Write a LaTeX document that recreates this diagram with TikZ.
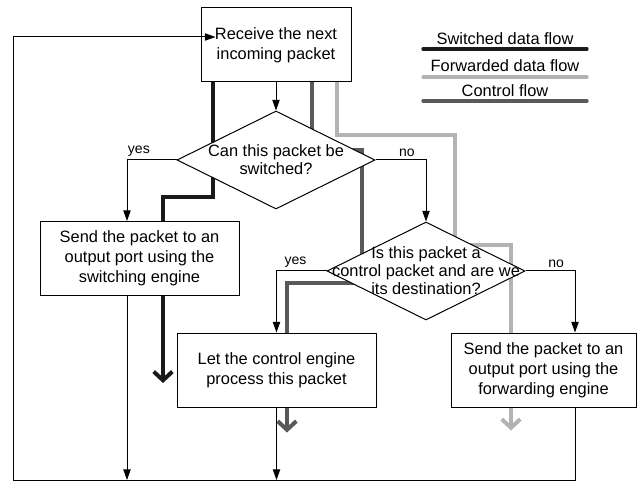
\documentclass[tikz,border=0pt]{standalone}
\usepackage{fontspec}
\setmainfont{Liberation Sans}
\usetikzlibrary{shapes.geometric,arrows.meta,calc,backgrounds}
\definecolor{swcol}{HTML}{1A1A1A}
\definecolor{fwcol}{HTML}{B3B3B3}
\definecolor{ctcol}{HTML}{595959}

\begin{document}
\begin{tikzpicture}[x=0.75pt, y=-0.75pt, line width=0.75pt,
    box/.style={draw, fill=white, align=center, minimum width=149.25pt, minimum height=55.5pt, inner sep=0pt, font=\fontsize{12.3}{15}\selectfont},
    decision/.style={diamond, draw, fill=white, minimum width=148.5pt, minimum height=73.5pt, inner sep=0pt},
    decisiontext/.style={align=center, inner sep=0pt, font=\fontsize{12.3}{13.5}\selectfont},
    link/.style={-{Triangle[length=8pt,width=5.5pt]}},
    answer/.style={above, inner sep=2pt, font=\fontsize{10.5}{12}\selectfont},
    legtext/.style={anchor=base, inner sep=0pt, font=\fontsize{12.3}{15}\selectfont},
    swpath/.style={swcol, line width=3pt},
    fwpath/.style={fwcol, line width=3pt},
    ctpath/.style={ctcol, line width=3pt},
    flowtip/.style={-{Straight Barb[length=6.5pt,width=14pt]}}]
    \useasboundingbox (0,0) rectangle (638,484);

    \node[box, minimum width=112.5pt] (recv) at (276,45) {Receive the next\\incoming packet};
    \node[decision] (q1) at (276,160) {};
    \node[decisiontext] (q1t) at (q1) {Can this packet be\\switched?};
    \node[box] (send) at (139.5,258.5) {Send the packet to an\\output port using the\\switching engine};
    \node[decision] (q2) at (426,271) {};
    \node[decisiontext] (q2t) at (q2) {Is this packet a\\control packet and are we\\its destination?};
    \node[box] (ctrl) at (276.5,370) {Let the control engine\\process this packet};
    \node[box, minimum width=138.75pt] (fwd) at (543.5,370) {Send the packet to an\\output port using the\\forwarding engine};

    \coordinate (colA) at (127,0);
    \coordinate (colC) at (575,0);
    \coordinate (loopbl) at (13,480);
    \coordinate (loopin) at (13,37);

    \draw[link] (recv.south) -- (q1.north);
    \draw[link] (q1.west) -| node[answer, pos=0.38] {yes} (send.north -| colA);
    \draw[link] (q1.east) -| node[answer, pos=0.31] {no} (q2.north);
    \draw[link] (q2.west) -| node[answer, pos=0.31] {yes} (ctrl.north);
    \draw[link] (q2.east) -| node[answer, pos=0.31] {no} (fwd.north -| colC);
    \draw[link] (send.south -| colA) -- (loopbl -| colA);
    \draw[link] (ctrl.south) -- (loopbl -| ctrl.south);
    \draw[link] (fwd.south -| colC) |- (loopbl) -- (loopin) -- ($(recv.west |- loopin)+(15,0)$);

    \begin{scope}[on background layer]
        \draw[swpath] ($(recv.south)+(-63,0)$) |- ($(send.north)+(23.5,-24)$) -- ($(send.north)+(23.5,0)$);
        \draw[swpath, flowtip] ($(send.south)+(23.5,0)$) -- ++(0,87);
        \draw[ctpath] ($(recv.south)+(36,0)$) -- ++(0,68) -| ($(q2.center)+(-64,12)$) -| ($(ctrl.north)+(10.5,0)$);
        \draw[ctpath, flowtip] ($(ctrl.south)+(10.5,0)$) -- ++(0,25);
        \draw[fwpath] ($(recv.south)+(61,0)$) -- ++(0,53) -| ($(q2.center)+(29,-26)$) -| ($(fwd.north)+(-32.5,0)$);
        \draw[fwpath, flowtip] ($(fwd.south)+(-32.5,0)$) -- ++(0,23);
    \end{scope}

    \node[legtext] (legsw) at (505,45) {Switched data flow};
    \node[legtext] (legfw) at (505,72) {Forwarded data flow};
    \node[legtext] (legct) at (505,97) {Control flow};
    \draw[swpath, line width=2.5pt, line cap=round] ($(legsw.base)+(-82,4)$) -- ++(164,0);
    \draw[fwpath, line width=2.5pt, line cap=round] ($(legfw.base)+(-82,5)$) -- ++(164,0);
    \draw[ctpath, line width=2.5pt, line cap=round] ($(legct.base)+(-82,4)$) -- ++(164,0);
\end{tikzpicture}
\end{document}
